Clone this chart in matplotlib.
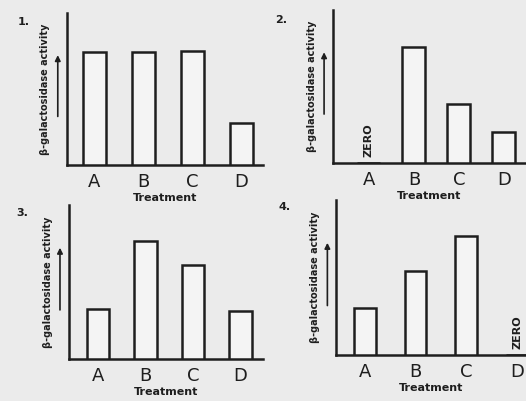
import matplotlib
matplotlib.use("Agg")
import matplotlib.pyplot as plt

categories = ["A", "B", "C", "D"]
panel_labels = ["1.", "2.", "3.", "4."]
values_1 = [100, 100, 101, 37]
values_2 = [0, 102, 52, 27]
values_3 = [44, 104, 83, 42]
values_4 = [41, 74, 105, 0]
all_values = [values_1, values_2, values_3, values_4]

xlabel = "Treatment"
ylabel = "β-galactosidase activity"
zero_text = "ZERO"

bg = "#ebebeb"
ink = "#1e1e1e"

fig = plt.figure(figsize=(5.26, 4.01), dpi=100, facecolor=bg)

rects = [
    [0.127, 0.589, 0.373, 0.379],
    [0.633, 0.594, 0.367, 0.382],
    [0.131, 0.105, 0.369, 0.384],
    [0.639, 0.115, 0.361, 0.387],
]
xlims = [(-0.56, 3.44), (-0.80, 3.49), (-0.61, 3.47), (-0.56, 3.17)]
widths = [0.47, 0.51, 0.48, 0.43]
ylim_top = [135, 135, 136, 137]
label_pos = [(-0.22, 0.94), (-0.27, 0.93), (-0.24, 0.95), (-0.27, 0.95)]

for i, vals in enumerate(all_values):
    ax = fig.add_axes(rects[i])
    ax.set_facecolor(bg)
    xs = list(range(len(categories)))
    ax.bar(xs, vals, width=widths[i], facecolor="#f4f4f4", edgecolor=ink,
           linewidth=1.8, zorder=3)
    for x, v in zip(xs, vals):
        if v == 0:
            ax.text(x, 5, zero_text, rotation=90, ha="center", va="bottom",
                    fontsize=8, fontweight="bold", color=ink)
    ax.set_xlim(*xlims[i])
    ax.set_ylim(0, ylim_top[i])
    for s in ["top", "right"]:
        ax.spines[s].set_visible(False)
    for s in ["left", "bottom"]:
        ax.spines[s].set_linewidth(1.8)
        ax.spines[s].set_color(ink)
    ax.set_yticks([])
    ax.set_xticks(xs)
    ax.set_xticklabels(categories, fontsize=13, color=ink)
    ax.tick_params(axis="x", length=0, pad=6)
    ax.set_xlabel(xlabel, fontsize=8, fontweight="bold", color=ink, labelpad=1)
    ax.text(-0.11, 0.50, ylabel, transform=ax.transAxes, rotation=90,
            ha="center", va="center", fontsize=7, fontweight="bold", color=ink)
    ax.annotate("", xy=(-0.046, 0.74), xytext=(-0.046, 0.30),
                xycoords="axes fraction", textcoords="axes fraction",
                arrowprops=dict(arrowstyle="-|>", color=ink, lw=1.2,
                                mutation_scale=8))
    ax.text(label_pos[i][0], label_pos[i][1], panel_labels[i],
            transform=ax.transAxes, ha="center", va="center",
            fontsize=8, fontweight="bold", color=ink)

fig.savefig("out.png", dpi=100, facecolor=bg)
